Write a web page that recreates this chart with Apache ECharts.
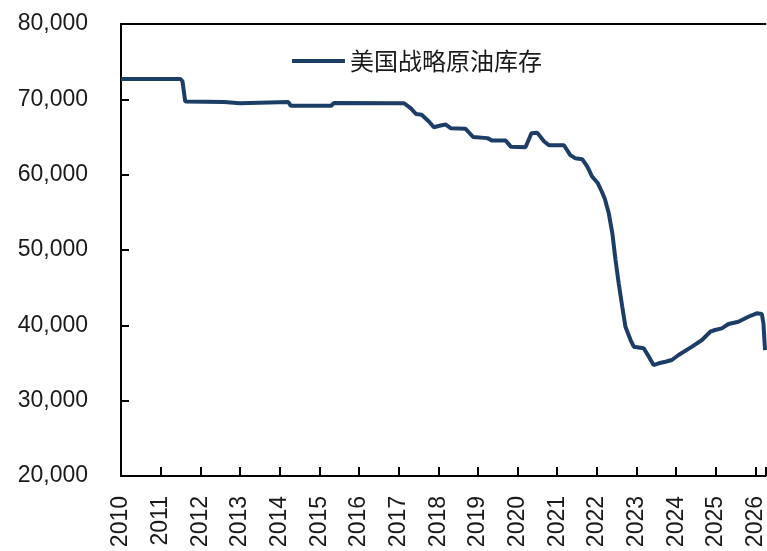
<!DOCTYPE html>
<html>
<head>
<meta charset="utf-8">
<script src="https://cdn.jsdelivr.net/npm/echarts@6/dist/echarts.min.js"></script>
<style>html,body{margin:0;padding:0;background:#fff}#c{width:767px;height:551px}</style>
</head>
<body>
<div id="c"></div>
<script>
const seriesName = '美国战略原油库存';
const years = [2010.00,2011.50,2011.55,2011.62,2012.60,2012.65,2013.00,2013.05,2014.22,2014.28,2015.30,2015.37,2017.14,2017.31,2017.44,2017.58,2017.77,2017.89,2018.03,2018.19,2018.32,2018.69,2018.88,2019.24,2019.36,2019.70,2019.83,2020.20,2020.35,2020.50,2020.67,2020.79,2021.17,2021.33,2021.46,2021.63,2021.76,2021.88,2022.02,2022.12,2022.20,2022.30,2022.39,2022.47,2022.55,2022.64,2022.72,2022.85,2022.93,2023.18,2023.31,2023.43,2023.56,2023.73,2023.89,2024.06,2024.40,2024.65,2024.86,2024.98,2025.15,2025.32,2025.57,2025.82,2026.03,2026.16,2026.20,2026.24];
const values = [72700,72700,72400,69700,69650,69480,69480,69650,69650,69150,69150,69520,69480,68810,68050,67950,67030,66300,66500,66650,66150,66080,65000,64850,64520,64520,63720,63650,65500,65550,64400,63920,63900,62600,62170,62050,61060,59750,58900,57800,56800,54870,52210,48670,45580,42470,39820,38050,37170,36950,35840,34730,34960,35170,35400,36060,37170,38050,39150,39380,39600,40170,40480,41140,41600,41500,40270,36720];
const yTicks = [20000,30000,40000,50000,60000,70000,80000];

const data = years.map((y, i) => [y, values[i]]);
const lineColor = '#1c3d66';
const chart = echarts.init(document.getElementById('c'));
const fontFam = 'Liberation Sans, Arial, sans-serif';
chart.setOption({
  animation: false,
  backgroundColor: '#fff',
  grid: { left: 121, right: 0, top: 24, bottom: 75, containLabel: false },
  legend: {
    left: 287, top: 44,
    icon: 'rect',
    itemWidth: 53, itemHeight: 4, itemGap: 6,
    itemStyle: { color: lineColor },
    textStyle: { fontSize: 24, color: '#1a1a1a', fontFamily: 'Noto Sans CJK SC, sans-serif' },
    data: [seriesName]
  },
  xAxis: [{
    type: 'value', min: 2010, max: 2026.25, interval: 1,
    splitLine: { show: false },
    axisLine: { show: true, lineStyle: { color: '#000', width: 2 } },
    axisTick: { show: true, inside: true, length: 9, lineStyle: { color: '#000', width: 2 } },
    axisLabel: {
      rotate: 90, margin: 20, fontSize: 23, color: '#1a1a1a', fontFamily: fontFam,
      formatter: v => (Math.abs(v - Math.round(v)) < 1e-6 ? String(Math.round(v)) : '')
    }
  }, {
    type: 'value', position: 'top', min: 2010, max: 2026.25,
    splitLine: { show: false },
    axisLine: { show: true, onZero: false, lineStyle: { color: '#000', width: 2 } },
    axisTick: { show: false }, axisLabel: { show: false }
  }],
  yAxis: {
    type: 'value', min: 20000, max: 80000, interval: 10000,
    splitLine: { show: false },
    axisLine: { show: true, lineStyle: { color: '#000', width: 2 } },
    axisTick: { show: true, inside: true, length: 8, lineStyle: { color: '#000', width: 2 } },
    axisLabel: {
      margin: 33, fontSize: 23, color: '#1a1a1a', fontFamily: fontFam,
      formatter: v => yTicks.includes(v) ? v.toLocaleString('en-US') : ''
    }
  },
  series: [{
    name: seriesName,
    type: 'line',
    xAxisIndex: 0,
    data: data,
    symbol: 'none',
    showSymbol: false,
    smooth: false,
    lineStyle: { color: lineColor, width: 4 },
    itemStyle: { color: lineColor }
  }]
});
</script>
</body>
</html>
